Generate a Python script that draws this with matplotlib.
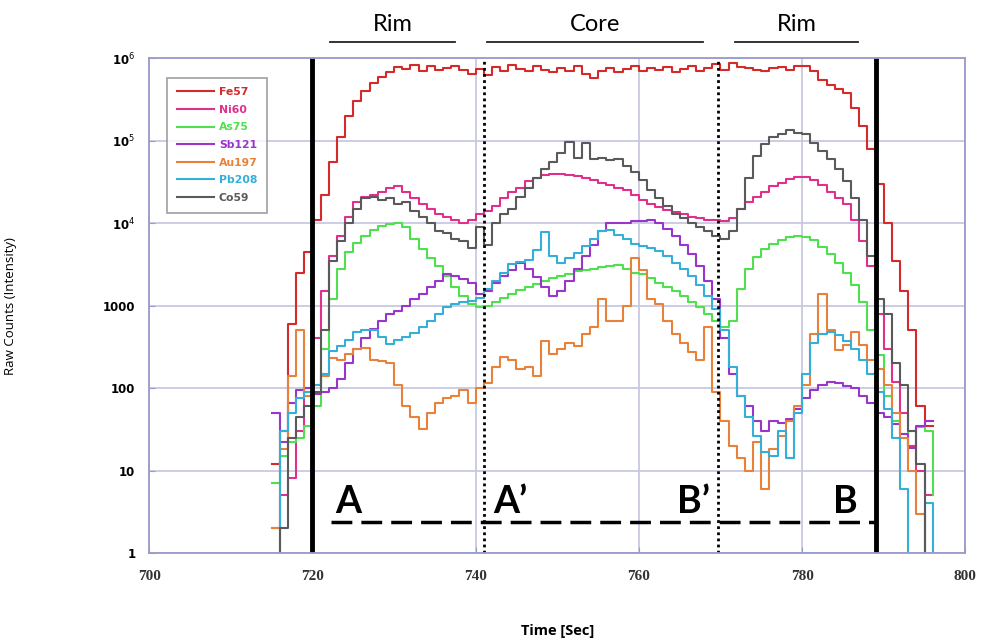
import matplotlib
matplotlib.use("Agg")
import matplotlib.pyplot as plt
import numpy as np

# time axis, one bin per second (value holds until next second)
times = np.arange(715, 797)

fe57 = [12, 30, 600, 2500, 4500, 11000, 22000, 55000, 110000, 200000,
        300000, 400000, 500000, 600000, 680000, 780000, 750000, 820000, 700000, 800000,
        720000, 760000, 800000, 720000, 650000, 750000, 620000, 780000, 700000, 820000,
        750000, 700000, 800000, 720000, 680000, 760000, 700000, 800000, 650000, 570000,
        700000, 760000, 680000, 740000, 800000, 700000, 760000, 720000, 780000, 680000,
        740000, 800000, 700000, 760000, 850000, 720000, 880000, 780000, 760000, 720000,
        700000, 760000, 780000, 720000, 800000, 800000, 700000, 550000, 480000, 420000,
        380000, 250000, 150000, 80000, 30000, 10000, 3500, 1500, 500, 60, 35, 35]

ni60 = [2, 5, 8, 30, 100, 400, 1500, 4000, 7000, 12000,
        18000, 21000, 22000, 24000, 27000, 28000, 24000, 20000, 17000, 15000,
        13000, 12000, 11000, 10000, 11000, 13000, 14000, 16000, 20000, 24000,
        27000, 32000, 35000, 38000, 40000, 40000, 38000, 37000, 35000, 33000,
        31000, 29000, 27000, 25000, 22000, 19000, 17000, 15500, 14500, 13500,
        13000, 12000, 11500, 11000, 11000, 10500, 11500, 15000, 18000, 21000,
        24000, 28000, 31000, 34000, 36000, 36000, 33000, 29000, 24000, 20000,
        17000, 11000, 6000, 3000, 800, 300, 120, 50, 20, 10, 5, 5]

as75 = [7, 15, 22, 25, 35, 60, 300, 1200, 2800, 4500,
        5800, 7000, 8300, 9200, 9800, 10000, 9000, 6500, 4800, 3800,
        3000, 2300, 1700, 1300, 1050, 950, 1000, 1100, 1250, 1400,
        1550, 1700, 1850, 2000, 2150, 2300, 2450, 2600, 2700, 2800,
        2900, 3000, 3100, 2800, 2500, 2400, 2150, 1900, 1700, 1500,
        1300, 1100, 950, 800, 650, 550, 650, 1600, 2800, 3900,
        4800, 5600, 6300, 6800, 7000, 6800, 6200, 5200, 4200, 3300,
        2500, 1800, 1100, 500, 250, 80, 40, 28, 30, 34, 30, 5]

sb121 = [50, 22, 65, 95, 100, 85, 90, 100, 130, 200,
         300, 400, 520, 650, 780, 870, 1000, 1200, 1400, 1700,
         2000, 2450, 2300, 2100, 1900, 1400, 1500, 1900, 2300, 2700,
         3300, 2800, 2200, 1700, 1300, 1500, 2000, 2800, 4000, 5500,
         8000, 10000, 10000, 10000, 10500, 10500, 11000, 10000, 8500, 7000,
         5500, 4200, 3000, 2000, 1200, 400, 150, 80, 60, 40,
         30, 40, 38, 42, 55, 75, 95, 110, 120, 115,
         105, 100, 80, 65, 50, 45, 37, 28, 19, 35, 40, 40]

au197 = [2, 18, 140, 500, 80, 110, 140, 230, 220, 260,
         300, 310, 220, 210, 200, 110, 60, 45, 32, 50,
         66, 75, 80, 95, 66, 100, 115, 180, 240, 220,
         170, 180, 140, 370, 260, 300, 350, 320, 450, 550,
         1200, 650, 650, 1000, 3800, 2700, 1200, 1050, 650, 450,
         350, 270, 220, 550, 90, 40, 20, 14, 10, 22,
         6, 18, 26, 40, 60, 110, 450, 1400, 500, 290,
         330, 480, 330, 220, 170, 110, 50, 25, 10, 3, 0.5, 0.5]

pb208 = [0.5, 30, 50, 75, 90, 110, 150, 280, 320, 380,
         480, 500, 500, 420, 340, 380, 420, 470, 550, 650,
         800, 950, 1050, 1100, 1150, 1250, 1600, 2000, 2500, 3200,
         3400, 3600, 4700, 7800, 4000, 3300, 3800, 4300, 5300, 6500,
         8000, 8300, 7200, 6500, 5600, 5300, 5000, 4600, 4000, 3300,
         2800, 2300, 1800, 1300, 900, 500, 180, 80, 45, 26,
         17, 15, 30, 14, 50, 150, 350, 450, 480, 440,
         370, 300, 220, 150, 90, 55, 25, 6, 0.5, 0.5, 4, 0.5]

co59 = [0.5, 2, 25, 45, 60, 90, 500, 3500, 6000, 10000,
        15000, 20000, 21000, 19000, 20000, 17000, 18000, 14000, 12000, 10000,
        8000, 7500, 6500, 6000, 5000, 9000, 5500, 10000, 13000, 15000,
        21000, 27000, 35000, 45000, 55000, 70000, 97000, 62000, 93000, 60000,
        62000, 58000, 60000, 50000, 42000, 33000, 25000, 20000, 16000, 13000,
        11500, 10000, 9000, 8000, 7000, 6500, 8000, 15000, 35000, 65000,
        90000, 110000, 120000, 135000, 125000, 120000, 95000, 75000, 60000, 45000,
        32000, 20000, 11000, 4000, 1200, 800, 200, 110, 30, 12, 0.5, 0.5]

names = ['Fe57', 'Ni60', 'As75', 'Sb121', 'Au197', 'Pb208', 'Co59']
series = [fe57, ni60, as75, sb121, au197, pb208, co59]
colors = ['#d42a2a', '#e0308c', '#4ee04e', '#9a35cc', '#e8823a', '#35aed8', '#5a5a5a']

# zone boundaries and labels
solid_x = [720, 789]
dotted_x = [741, 769.7]
zones = [('Rim', 722.2, 737.5), ('Core', 741.4, 767.9), ('Rim', 771.8, 786.9)]
letters = [('A', 724.4), ('A\u2019', 744.2), ('B\u2019', 766.7), ('B', 785.3)]

fig = plt.figure(figsize=(9.82, 6.4), dpi=100)
ax = fig.add_axes([0.152, 0.136, 0.831, 0.773])

for name, vals, c in zip(names, series, colors):
    ax.step(times, vals, where='post', color=c, lw=1.5, label=name)

ax.set_yscale('log')
ax.set_xlim(700, 800)
ax.set_ylim(1, 1e6)

ax.set_xticks(range(700, 801, 20))
ax.set_yticks([1, 10, 100, 1000, 1e4, 1e5, 1e6])
ax.set_yticklabels(['1', '10', '100', '1000', r'10$^4$', r'10$^5$', r'10$^6$'],
                   fontsize=8.5, fontweight='bold')
ax.minorticks_off()
for lab in ax.get_xticklabels():
    lab.set_fontfamily('Liberation Serif')
    lab.set_fontweight('bold')
    lab.set_fontsize(11)
    lab.set_color('#333333')
ax.tick_params(axis='both', direction='in', length=4, color='#9a9acb', pad=12)
ax.tick_params(axis='y', pad=10)
ax.grid(True, color='#c8c8e0', lw=1.3)
ax.set_axisbelow(True)
for sp in ax.spines.values():
    sp.set_color('#9a9acb')
    sp.set_linewidth(1.3)

for x in solid_x:
    ax.axvline(x, color='black', lw=3.5)
for x in dotted_x:
    ax.axvline(x, color='black', lw=2, linestyle=(0, (1, 1.2)))

ax.plot([722.3, 789], [2.38, 2.38], color='black', lw=2.5, linestyle=(0, (6, 2.6)))
for s, x in letters:
    ax.text(x, 4.2, s, fontsize=27, fontweight='bold', family='Lato',
            ha='center', va='center')

trans = ax.get_xaxis_transform()
for s, x0, x1 in zones:
    ax.plot([x0, x1], [1.032, 1.032], color='#222222', lw=1.3, transform=trans, clip_on=False)
    ax.text((x0 + x1) / 2, 1.068, s, fontsize=17, family='Lato', ha='center', va='center',
            transform=trans)

leg = ax.legend(loc='upper left', bbox_to_anchor=(0.015, 0.972), fontsize=7.8,
                handlelength=3.4, labelspacing=0.7, frameon=True, fancybox=False,
                borderpad=0.9, handletextpad=0.5)
leg.get_frame().set_edgecolor('#888888')
leg.get_frame().set_linewidth(1.2)
for txt, c in zip(leg.get_texts(), colors):
    txt.set_color(c)
    txt.set_fontweight('bold')

ax.set_ylabel('Raw Counts (Intensity)', fontsize=9.5, family='Open Sans', labelpad=62)
ax.set_xlabel('Time [Sec]', fontsize=10.5, fontweight='bold', family='Open Sans', labelpad=30)

fig.savefig('out.png', dpi=100)
